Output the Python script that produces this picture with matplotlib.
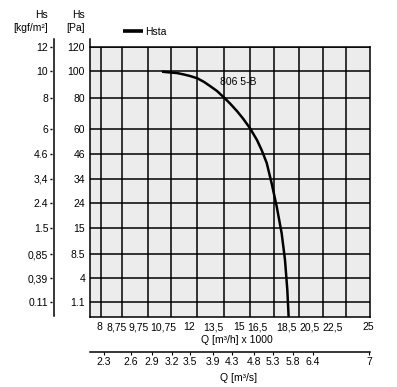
import numpy as np
import matplotlib
matplotlib.use('Agg')
import matplotlib.pyplot as plt

plt.rcParams['font.family'] = ['Liberation Sans Narrow', 'Liberation Sans', 'DejaVu Sans']
plt.rcParams['font.size'] = 7.5

# --- data ---
pa_ticks = [1.1, 4, 8.5, 15, 24, 34, 46, 60, 80, 100, 120]
pa_labels = ['1.1', '4', '8.5', '15', '24', '34', '46', '60', '80', '100', '120']
kgf_labels = ['0.11', '0,39', '0,85', '1.5', '2.4', '3,4', '4.6', '6', '8', '10', '12']
q_ticks = [8, 8.75, 9.75, 10.75, 12, 13.5, 15, 16.5, 18.5, 20.5, 22.5, 25]
q_labels = ['8', '8,75', '9,75', '10,75', '12', '13,5', '15', '16,5', '18,5', '20,5', '22,5', '25']
qs_ticks = [2.3, 2.6, 2.9, 3.2, 3.5, 3.9, 4.3, 4.8, 5.3, 5.8, 6.4, 7]
qs_labels = ['2.3', '2.6', '2.9', '3.2', '3.5', '3.9', '4.3', '4.8', '5.3', '5.8', '6.4', '7']
curve_q = [10.71, 11.09, 11.42, 11.76, 12.06, 12.52, 12.94, 13.31, 13.73, 14.09,
           14.48, 14.88, 15.33, 15.92, 16.5, 16.82, 17.17, 17.51, 17.86, 18.2,
           18.43, 18.61, 18.72]
curve_pa = [99.5, 98.9, 98.5, 97.4, 96.3, 94.6, 91.9, 88.9, 85.2, 80.9,
            76.5, 71.6, 66.8, 60.45, 53.8, 48.2, 41.7, 32.2, 22.7, 13.7,
            7.4, 2.55, 0]

# --- layout (pixels of a 397x387 canvas) ---
W, H = 397, 387
q_px = [99, 117, 139, 163, 189, 213, 239, 257, 286, 310, 333, 368]
qs_px = [104, 131, 152, 172, 190, 213, 232, 254, 273, 293, 313, 369]
pa_anchor = [0] + pa_ticks
pa_px = [317, 302, 278, 254, 228, 203, 179, 154, 129, 98, 71, 47]
vgrid_px = [101, 122, 148, 171, 197, 224, 250, 274, 299, 323, 346]


def anchor_scale(vals, pos):
    '''piecewise linear scale through anchor points'''
    vals = np.asarray(vals, float)
    pos = np.asarray(pos, float)

    def lin(v, a, b):
        v = np.asarray(v, float)
        out = np.interp(v, a, b)
        lo = (b[1] - b[0]) / (a[1] - a[0])
        hi = (b[-1] - b[-2]) / (a[-1] - a[-2])
        out = np.where(v < a[0], b[0] + (v - a[0]) * lo, out)
        out = np.where(v > a[-1], b[-1] + (v - a[-1]) * hi, out)
        return out
    return (lambda v: lin(v, vals, pos)), (lambda p: lin(p, pos, vals))


fx = anchor_scale(q_ticks, q_px)
fy = anchor_scale(pa_anchor, [H - p for p in pa_px])
fs = anchor_scale(qs_ticks, qs_px)

fig = plt.figure(figsize=(W / 100, H / 100), dpi=100)
ax = fig.add_axes([90 / W, 70 / H, 280 / W, 270 / H])
ax.set_xscale('function', functions=fx)
ax.set_yscale('function', functions=fy)
ax.set_xlim(float(fx[1](90)), float(fx[1](370)))
ax.set_ylim(0, 120)
ax.set_facecolor('#ececec')

ax.set_yticks(pa_ticks, pa_labels)
ax.set_xticks(q_ticks, q_labels)
ax.set_xticks(fx[1](np.array(vgrid_px, float)), minor=True)
ax.grid(axis='y', which='major', color='k', lw=1.1)
ax.grid(axis='x', which='minor', color='k', lw=1.1)
ax.tick_params(which='both', length=0)
ax.tick_params(axis='x', pad=3.8)
ax.tick_params(axis='y', pad=3.6)
for s in ax.spines.values():
    s.set_linewidth(1.1)
ax.spines['left'].set_visible(False)
ax.plot([0, 0], [0, (317 - 39) / 270], transform=ax.transAxes,
        clip_on=False, color='k', lw=1.1)

line, = ax.plot(curve_q, curve_pa, color='k', lw=1.8, solid_capstyle='butt',
                solid_joinstyle='round')
ax.text(14.94, 91.9, '806 5-B', ha='center', va='center')

ax.set_xlabel('Q [m³/h] x 1000')
ax.xaxis.set_label_coords((237 - 90) / 280, -(335 - 317) / 270)

# kgf/m2 axis on the far left
ax2 = ax.twinx()
ax2.set_yscale('function', functions=fy)
ax2.set_ylim(0, 120)
ax2.yaxis.tick_left()
ax2.spines['left'].set_position(('outward', (90 - 52) * 0.72))
for s in ax2.spines.values():
    s.set_visible(False)
ax2.set_yticks(pa_ticks, kgf_labels)
ax2.tick_params(axis='y', length=1.5, width=1, pad=1.2, left=True, right=False,
                labelleft=True, labelright=False)
ax.plot([-(90 - 54) / 280] * 2, [1 / 270, (317 - 39) / 270], transform=ax.transAxes,
        clip_on=False, color='k', lw=1.1)

# m3/s axis below
ax3 = fig.add_axes([90 / W, (H - 352) / H, 280 / W, 8 / H])
ax3.set_xscale('function', functions=fs)
ax3.set_xlim(float(fs[1](90)), float(fs[1](370)))
ax3.patch.set_visible(False)
for k in ['left', 'right', 'top']:
    ax3.spines[k].set_visible(False)
ax3.spines['bottom'].set_linewidth(1.1)
ax3.set_yticks([])
ax3.set_xticks(qs_ticks, qs_labels)
ax3.xaxis.set_minor_locator(matplotlib.ticker.NullLocator())
ax3.tick_params(axis='x', length=2, width=0.8, pad=1.5)
ax3.set_xlabel('Q [m³/s]')
ax3.xaxis.set_label_coords((239 - 90) / 280, -(373 - 352) / 8)

# headers and legend
def px(x, y):
    return x / W, 1 - y / H

fig.text(*px(48, 15), 'Hs', ha='right', va='center')
fig.text(*px(48, 28), '[kgf/m²]', ha='right', va='center')
fig.text(*px(85, 15), 'Hs', ha='right', va='center')
fig.text(*px(85, 28), '[Pa]', ha='right', va='center')
fig.legend([line], ['Hsta'], loc='center left', bbox_to_anchor=px(123, 32),
           frameon=False, borderpad=0, borderaxespad=0, handlelength=1.9,
           handletextpad=0.2, fontsize=7.5)
for lh in fig.legends[0].get_lines():
    lh.set_linewidth(2.6)

fig.savefig('out.png', dpi=100)
